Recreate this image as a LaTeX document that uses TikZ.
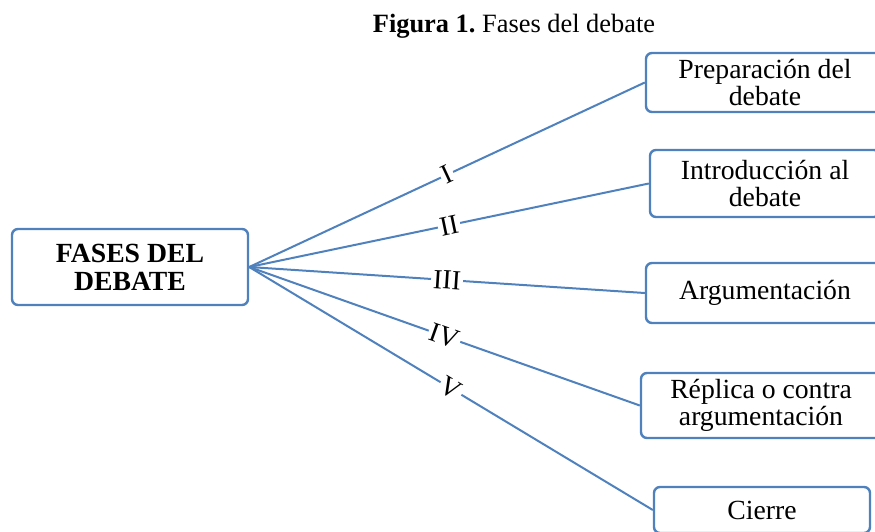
\documentclass[tikz,border=0pt]{standalone}
\usepackage{fontspec}
\setmainfont{Liberation Serif}
\definecolor{lineblue}{HTML}{4F81BD}
\frenchspacing
\begin{document}
\begin{tikzpicture}[x=1pt,y=-1pt,
  box/.style={draw=lineblue, line width=2.4pt, rounded corners=6pt, fill=white, align=center, inner sep=0pt, font=\fontsize{27.7}{27}\selectfont},
  conn/.style={draw=lineblue, line width=2pt},
  lbl/.style={midway, sloped, fill=white, inner sep=2pt, font=\fontsize{27.7}{27}\selectfont}]
\useasboundingbox (0,0) rectangle (875,531);
\clip (0,0) rectangle (875,531);
\node[font=\fontsize{26.4}{30}\selectfont, anchor=base, inner sep=0pt] (title) at (514,32) {\textbf{Figura 1.} Fases del debate};
\node[box, minimum width=236pt, minimum height=76pt, font=\bfseries\fontsize{27.7}{28}\selectfont] (root) at (130,267) {FASES DEL\\DEBATE};
\node[box, minimum width=238pt, minimum height=59pt] (p1) at (765,82.5) {Preparación del\\debate};
\node[box, minimum width=230pt, minimum height=67pt] (p2) at (765,183.5) {Introducción al\\debate};
\node[box, minimum width=238pt, minimum height=60pt] (p3) at (765,293) {Argumentación};
\node[box, minimum width=240pt, minimum height=65pt] (p4) at (761,405.5) {Réplica o contra\\argumentación};
\node[box, minimum width=216pt, minimum height=46pt] (p5) at (762,510) {Cierre};
\draw[conn] (root.east) -- node[lbl]{I} (p1.west);
\draw[conn] (root.east) -- node[lbl]{II} (p2.west);
\draw[conn] (root.east) -- node[lbl]{III} (p3.west);
\draw[conn] (root.east) -- node[lbl]{IV} (p4.west);
\draw[conn] (root.east) -- node[lbl]{V} (p5.west);
\end{tikzpicture}
\end{document}
